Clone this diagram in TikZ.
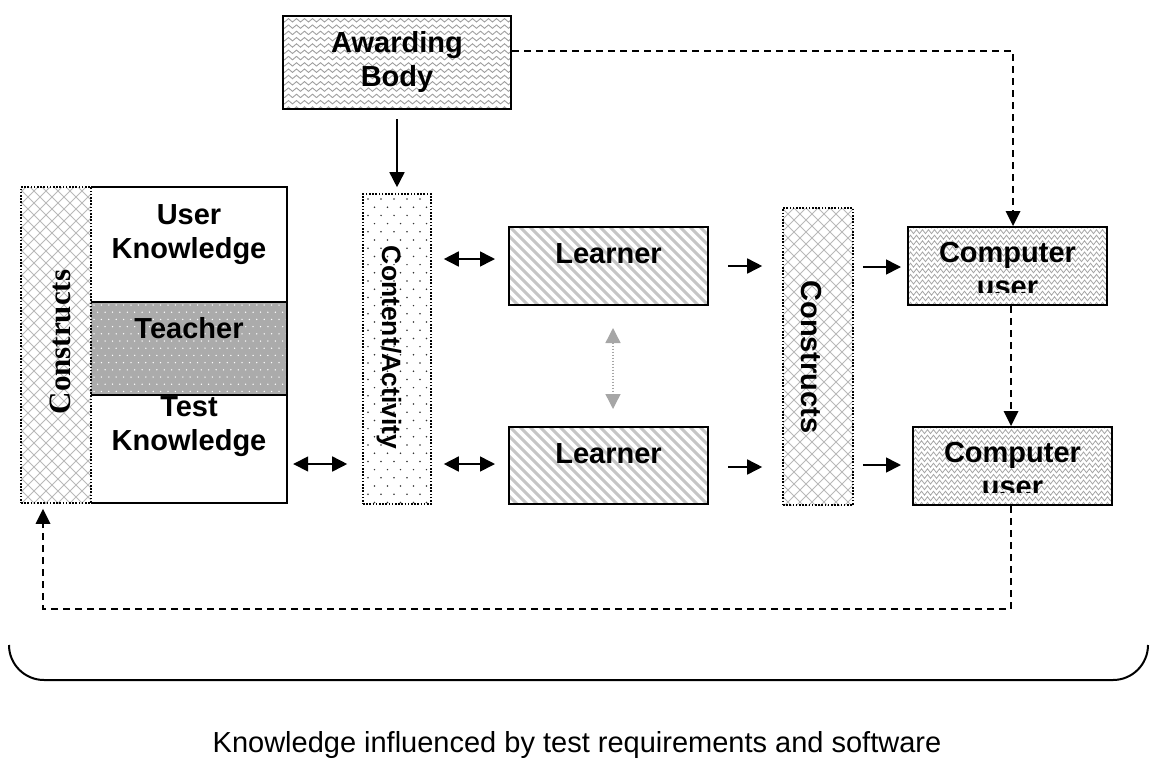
\documentclass[tikz,border=0pt]{standalone}
\usepackage{fontspec}
\setmainfont{Liberation Sans}
\newfontfamily\timesf{Liberation Serif}
\usetikzlibrary{arrows.meta,decorations.pathmorphing}
\begin{document}
\begin{tikzpicture}[x=1pt,y=-1pt,
  solidbox/.style={draw=black,line width=2pt,rectangle,inner sep=0pt},
  plainbox/.style={rectangle,inner sep=0pt},
  dotbox/.style={draw=black,line width=1.6pt,dash pattern=on 1.6pt off 1.6pt,rectangle,inner sep=0pt},
  lbl/.style={font=\fontsize{29}{34}\selectfont\bfseries,align=center,inner sep=0pt},
  tip/.style={-{Triangle[length=15pt,width=15pt]}},
  arr/.style={line width=1.6pt,-{Triangle[length=15pt,width=15pt]}},
  darr/.style={line width=1.6pt,{Triangle[length=15pt,width=15pt]}-{Triangle[length=15pt,width=15pt]}},
  garr/.style={gray!70,line width=1.4pt,dash pattern=on 1.5pt off 1.5pt,{Triangle[length=15pt,width=15pt]}-{Triangle[length=15pt,width=15pt]}},
  dashline/.style={line width=1.6pt,dash pattern=on 7pt off 5pt},
  hatch/.style={gray!55,line width=1pt},
]
\useasboundingbox (0,0) rectangle (1151,758);

% ---------- patterns ----------
% Awarding body: waves
\begin{scope}
  \clip (283,16) rectangle (511,109);
  \foreach \i in {0,...,15}
    \draw[gray!75,line width=0.9pt,decorate,decoration={snake,amplitude=1.7pt,segment length=8pt}]
      (278,{14+\i*6.3}) -- (516,{14+\i*6.3});
\end{scope}
% left constructs: crosshatch
\begin{scope}
  \clip (21,187) rectangle (91,503);
  \foreach \t in {-330,-318,...,100} {
    \draw[hatch] (\t,187) -- ++(320,320);
    \draw[hatch] ({\t+320},187) -- ++(-320,320);
  }
\end{scope}
% right constructs: crosshatch
\begin{scope}
  \clip (783,208) rectangle (853,505);
  \foreach \t in {470,482,...,860} {
    \draw[hatch] (\t,208) -- ++(300,300);
    \draw[hatch] ({\t+300},208) -- ++(-300,300);
  }
\end{scope}
% teacher: gray with white dots
\fill[black!33] (91,302) rectangle (287,395);
\begin{scope}
  \clip (91,302) rectangle (287,395);
  \foreach \i in {0,...,13}
    \foreach \j in {0,...,27}
      \fill[white] ({94+\j*7.4+mod(\i,2)*3.7},{305+\i*7.2}) circle (0.75);
\end{scope}
% content: dots
\begin{scope}
  \clip (363,194) rectangle (431,504);
  \foreach \i in {0,...,37}
    \foreach \j in {0,...,5}
      \fill[black!80] ({368+\j*13+mod(\i,2)*6.5},{199+\i*8.2}) circle (0.85);
\end{scope}
% learners: diagonal stripes
\begin{scope}
  \clip (509,227) rectangle (708,305);
  \foreach \t in {400,410,...,720}
    \draw[gray!45,line width=3pt] (\t,227) -- ++(90,90);
\end{scope}
\begin{scope}
  \clip (509,427) rectangle (708,504);
  \foreach \t in {400,410,...,720}
    \draw[gray!45,line width=3pt] (\t,427) -- ++(90,90);
\end{scope}
% computer users: woven texture
\begin{scope}
  \clip (908,227) rectangle (1107,305);
  \foreach \i in {0,...,14}
    \draw[gray!70,line width=0.8pt,decorate,decoration={zigzag,amplitude=2pt,segment length=6pt}]
      (903,{226+\i*5.6}) -- (1112,{226+\i*5.6});
\end{scope}
\begin{scope}
  \clip (913,427) rectangle (1112,505);
  \foreach \i in {0,...,14}
    \draw[gray!70,line width=0.8pt,decorate,decoration={zigzag,amplitude=2pt,segment length=6pt}]
      (908,{426+\i*5.6}) -- (1117,{426+\i*5.6});
\end{scope}

% ---------- boxes ----------
\node[solidbox,minimum width=228,minimum height=93] (aw) at (397,62.5) {};
\node[plainbox,minimum width=196,minimum height=115] (uk) at (189,244.5) {};
\node[plainbox,minimum width=196,minimum height=93] (te) at (189,348.5) {};
\node[plainbox,minimum width=196,minimum height=108] (tk) at (189,449) {};
\draw[line width=2pt] (uk.north west) -- (uk.north east) -- (tk.south east) -- (tk.south west);
\draw[line width=2pt] (te.north west) -- (te.north east);
\draw[line width=2pt] (te.south west) -- (te.south east);
\node[dotbox,minimum width=70,minimum height=316] (cl) at (56,345) {};
\node[dotbox,minimum width=68,minimum height=310] (ca) at (397,349) {};
\node[solidbox,minimum width=199,minimum height=78] (l1) at (608.5,266) {};
\node[solidbox,minimum width=199,minimum height=77] (l2) at (608.5,465.5) {};
\node[dotbox,minimum width=70,minimum height=297] (cr) at (818,356.5) {};
\node[solidbox,minimum width=199,minimum height=78] (cu1) at (1007.5,266) {};
\node[solidbox,minimum width=199,minimum height=78] (cu2) at (1012.5,466) {};

% ---------- texts ----------
\node[lbl] (awt) at (397,62) {Awarding\\Body};
\node[lbl] (ukt) at (189,234.5) {User\\Knowledge};
\node[lbl] (tet) at (189,328.5) {Teacher};
\node[lbl] (tkt) at (189,427) {Test\\Knowledge};
\node[font=\timesf\fontsize{31}{34}\selectfont\bfseries,rotate=90,inner sep=0pt] (clt) at (60,342) {Constructs};
\node[font=\fontsize{26.5}{30}\selectfont\bfseries,rotate=-90,inner sep=0pt] (cat) at (389,347.5) {Content/Activity};
\node[lbl] (l1t) at (608.5,253.5) {Learner};
\node[lbl] (l2t) at (608.5,453.5) {Learner};
\node[lbl,rotate=-90] (crt) at (811.5,357) {Constructs};
\begin{scope}
  \clip (908,227) rectangle (1107,292);
  \node[lbl] (cu1t) at (1007.5,270) {Computer\\user};
\end{scope}
\begin{scope}
  \clip (913,427) rectangle (1112,492);
  \node[lbl] (cu2t) at (1012.5,470) {Computer\\user};
\end{scope}

% ---------- connectors ----------
\draw[arr,shorten <=9pt,shorten >=6pt] (aw.south) -- (ca.north);
\draw[darr,shorten <=12pt,shorten >=13pt] (ca.east |- 0,259) -- (l1.west |- 0,259);
\draw[darr,shorten <=12pt,shorten >=13pt] (ca.east |- 0,464) -- (l2.west |- 0,464);
\draw[darr,shorten <=6pt,shorten >=15pt] (tk.east |- 0,464) -- (ca.west |- 0,464);
\draw[garr,shorten <=22pt,shorten >=17pt] (l1.south -| 613,0) -- (l2.north -| 613,0);
\draw[arr,shorten <=19pt,shorten >=20pt] (l1.east) -- (l1.east -| cr.west);
\draw[arr,shorten <=19pt,shorten >=20pt] (l2.east |- 0,467) -- (cr.west |- 0,467);
\draw[arr,shorten <=9pt,shorten >=6pt] (cr.east |- 0,267) -- (cu1.west |- 0,267);
\draw[arr,shorten <=9pt,shorten >=11pt] (cr.east |- 0,465) -- (cu2.west |- 0,465);

\coordinate (c1) at (1013,51);
\coordinate (c2) at (1011,609);
\coordinate (c3) at (43,609);
\draw[dashline] (aw.east |- c1) -- (c1) -- ([yshift=8pt]cu1.north -| c1);
\draw[tip,line width=0pt] ([yshift=8pt]cu1.north -| c1) -- (cu1.north -| c1);
\draw[dashline] (cu1.south -| c2) -- ([yshift=8pt]cu2.north -| c2);
\draw[tip,line width=0pt] ([yshift=8pt]cu2.north -| c2) -- (cu2.north -| c2);
\draw[dashline] (cu2.south -| c2) -- (c2) -- (c3) -- ([yshift=-20pt]cl.south -| c3);
\draw[tip,line width=0pt] ([yshift=-20pt]cl.south -| c3) -- ([yshift=-5pt]cl.south -| c3);

% ---------- brace ----------
\draw[line width=2pt,rounded corners=35pt] (9,645) -- (9,680) -- (1148,680) -- (1148,645);
\node[font=\fontsize{29}{34}\selectfont,anchor=base] (cap) at (577,752) {Knowledge influenced by test requirements and software};
\end{tikzpicture}
\end{document}
